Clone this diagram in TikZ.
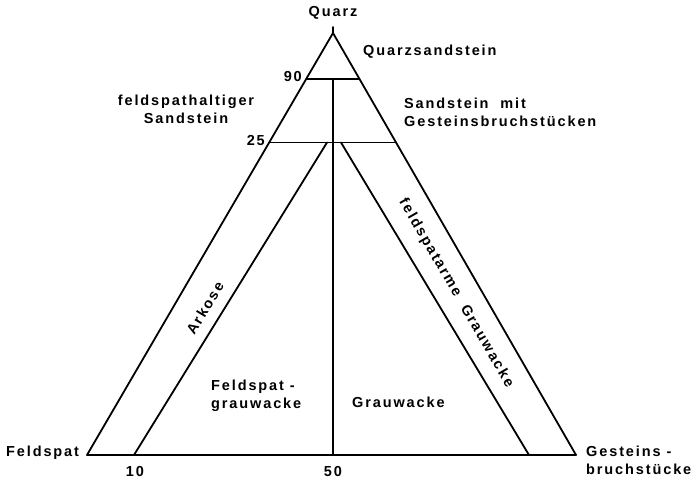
\documentclass[tikz,border=0pt]{standalone}
\usepackage{fontspec}
\setmainfont{Liberation Sans}[LetterSpace=13]
\begin{document}
\begin{tikzpicture}[x=1pt,y=-1pt,
  edge/.style={line width=1.8pt,line cap=round,line join=round},
  lbl/.style={inner sep=0pt,font=\fontsize{14.5}{18}\selectfont\bfseries}]
\useasboundingbox (0,0) rectangle (696,481);
% corners
\coordinate (Q) at (333,33);
\coordinate (F) at (87,455);
\coordinate (R) at (576,455);
\coordinate (T) at (333,27);
% class boundaries
\coordinate (a90) at (306.2,79);
\coordinate (b90) at (359.5,79);
\coordinate (c90) at (333,79);
\coordinate (a25) at (269.2,142.5);
\coordinate (b25) at (396.1,142.5);
\coordinate (l25) at (327,142.5);
\coordinate (r25) at (341,142.5);
\coordinate (l10) at (134,455);
\coordinate (c50) at (333,455);
\coordinate (r90) at (529,455);
% triangle
\draw[edge] (F) -- (Q) -- (R) -- cycle;
\draw[edge] (T) -- (Q);
\draw[edge] (a90) -- (b90);
\draw[edge] (a25) -- (b25);
\draw[edge] (c90) -- (c50);
\draw[edge] (l25) -- (l10);
\draw[edge] (r25) -- (r90);
% labels
\node[lbl] (tq) at (333,13) {Quarz};
\node[lbl,anchor=west] (tqs) at (363,52) {Quarzsandstein};
\node[lbl,anchor=east] (t90) at (302,77) {90};
\node[lbl,anchor=east] (t25) at (265,141) {25};
\node[lbl,align=center] (tfs) at (186,109) {feldspathaltiger\\Sandstein};
\node[lbl,align=left,anchor=west] (tsg) at (404,112) {Sandstein\ \ mit\\Gesteinsbruchstücken};
\node[lbl,rotate=59] (tark) at (205,308) {Arkose};
\node[lbl,rotate=-60] (tfg) at (456,293) {feldspatarme\ \ Grauwacke};
\node[lbl,align=left,anchor=west] (tfgw) at (211,396) {Feldspat -\\grauwacke};
\node[lbl,anchor=west] (tgw) at (352,402) {Grauwacke};
\node[lbl,anchor=west] (tf) at (6,453) {Feldspat};
\node[lbl] (t10) at (135,472) {10};
\node[lbl] (t50) at (333,472) {50};
\node[lbl,align=left,anchor=west] (tgb) at (586,460) {Gesteins -\\bruchstücke};
\end{tikzpicture}
\end{document}
